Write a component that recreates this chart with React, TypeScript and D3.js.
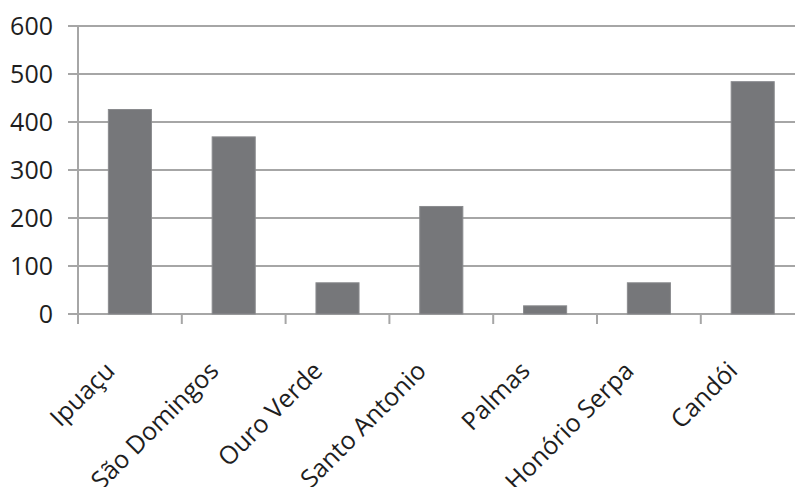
import React from "react";
import * as d3 from "d3";

const categories = ["Ipuaçu", "São Domingos", "Ouro Verde", "Santo Antonio", "Palmas", "Honório Serpa", "Candói"];
const values = [426, 369, 65, 224, 17, 65, 484];
const yTicks = [0, 100, 200, 300, 400, 500, 600];

export default function App() {
  const W = 795, H = 487;
  const x0 = 78, bandW = 103.8;
  const x = d3.scaleBand<string>().domain(categories).range([x0, x0 + bandW * categories.length]).paddingInner(0.585).paddingOuter(0.2925);
  const xb = d3.scaleBand<string>().domain(categories).range([x0, x0 + bandW * categories.length]);
  const y = d3.scaleLinear().domain([0, 600]).range([314, 26]);
  const font = "'Open Sans', sans-serif";
  const grid = "#a6a6a6";
  return (
    <svg width={W} height={H} style={{ position: "absolute", left: 0, top: 0, background: "#fff" }}>
      {yTicks.map((t) => (
        <g key={t}>
          <line x1={68} x2={W} y1={y(t)} y2={y(t)} stroke={grid} strokeWidth={2} />
          <text x={53} y={y(t)} dy="0.36em" textAnchor="end" fontFamily={font} fontSize={25} fill="#1e1e1e">{t}</text>
        </g>
      ))}
      <line x1={x0} x2={x0} y1={y(600)} y2={324} stroke={grid} strokeWidth={2} />
      {categories.map((c) => (
        <line key={c} x1={xb(c)! + bandW} x2={xb(c)! + bandW} y1={y(0)} y2={324} stroke={grid} strokeWidth={2} />
      ))}
      {categories.map((c, i) => (
        <rect key={c} x={x(c)} y={y(values[i])} width={x.bandwidth()} height={y(0) - y(values[i])} fill="#76777a" stroke="#8a8b8e" strokeWidth={1} />
      ))}
      {categories.map((c) => {
        const cx = xb(c)! + bandW / 2;
        return (
          <text key={c} transform={`translate(${cx - 26},${360}) rotate(-45)`} textAnchor="end" dy="0.7em" fontFamily={font} fontSize={25} fill="#1e1e1e">{c}</text>
        );
      })}
    </svg>
  );
}
